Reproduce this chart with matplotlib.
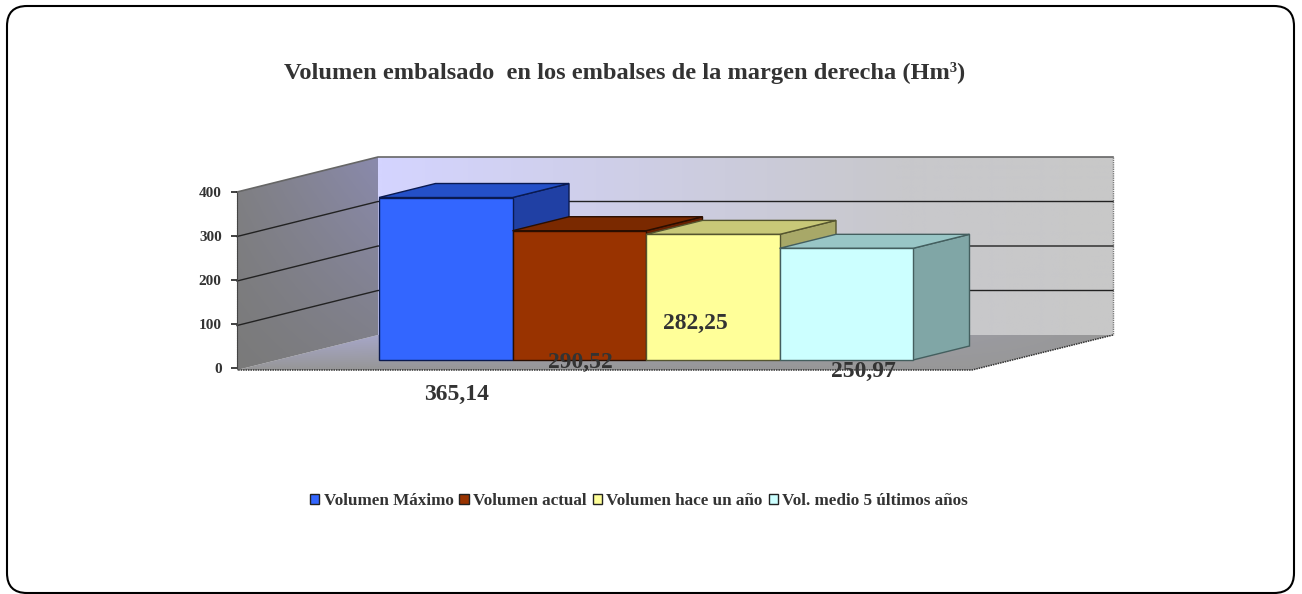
#!/usr/bin/env python3
"""Volumen embalsado, margen derecha: fake-3D bar chart drawn on a pixel canvas."""
import numpy as np
import matplotlib
matplotlib.use("Agg")
import matplotlib.pyplot as plt
from matplotlib.colors import to_rgb
from matplotlib.patches import FancyBboxPatch, Polygon, Rectangle

plt.rcParams["font.family"] = ["Liberation Serif", "DejaVu Serif"]

TITLE = "Volumen embalsado  en los embalses de la margen derecha (Hm³)"
categories = ["Volumen Máximo", "Volumen actual", "Volumen hace un año", "Vol. medio 5 últimos años"]
values = [365.14, 290.52, 282.25, 250.97]
value_labels = ["365,14", "290,52", "282,25", "250,97"]
ticks = [0, 100, 200, 300, 400]

front_colors = ["#3366ff", "#993300", "#ffff99", "#ccffff"]
top_colors = ["#2450c8", "#7a2900", "#c8c878", "#99c6c6"]
side_colors = ["#2040a4", "#661f00", "#a8a868", "#80a6a6"]
edge_colors = ["#0a1a50", "#2a0e00", "#55552f", "#445f5f"]
label_xy = [(457, 393), (580, 361), (695, 322), (863, 370)]

W, H = 1302, 594
PX_PER_UNIT = 0.445
BAR_X0, BAR_W, BAR_BASE = 379, 133.5, 360
BAR_DX, BAR_DY = 56.5, -14
WALL_X0, WALL_X1, WALL_BASE = 378, 1113, 335
WALL_FADE_X = 900  # back wall is plain grey from here on
DEPTH_DX, DEPTH_DY = -141, 35


def gradient(ax, pts, c00, c10, c01, c11):
    """Fill a polygon with a bilinear gradient (corners: TL, TR, BL, BR of its bbox)."""
    pts = np.array(pts, dtype=float)
    x0, y0 = pts.min(axis=0)
    x1, y1 = pts.max(axis=0)
    u, v = np.meshgrid(np.linspace(0, 1, 64), np.linspace(0, 1, 64))
    u, v = u[..., None], v[..., None]
    c00, c10, c01, c11 = [np.array(to_rgb(c)) for c in (c00, c10, c01, c11)]
    img = (1 - v) * ((1 - u) * c00 + u * c10) + v * ((1 - u) * c01 + u * c11)
    im = ax.imshow(img, extent=(x0, x1, y1, y0), aspect="auto", zorder=1, interpolation="bilinear")
    clip = Polygon(pts, closed=True, transform=ax.transData, fc="none", ec="none")
    ax.add_patch(clip)
    im.set_clip_path(clip)


fig = plt.figure(figsize=(W / 100, H / 100), dpi=100, facecolor="white")
ax = fig.add_axes([0, 0, 1, 1])
ax.axis("off")

# floor, left wall, back wall
wall_top = WALL_BASE - ticks[-1] * PX_PER_UNIT
gradient(ax, [(WALL_X0 + DEPTH_DX, WALL_BASE + DEPTH_DY), (WALL_X1 + DEPTH_DX, WALL_BASE + DEPTH_DY),
              (WALL_X1, WALL_BASE), (WALL_X0, WALL_BASE)],
         "#a9a9d0", "#989898", "#969696", "#989898")
gradient(ax, [(WALL_X0 + DEPTH_DX, wall_top + DEPTH_DY), (WALL_X0, wall_top), (WALL_X0, WALL_BASE),
              (WALL_X0 + DEPTH_DX, WALL_BASE + DEPTH_DY)],
         "#808084", "#8a8aac", "#7a7a7a", "#7e7e84")
gradient(ax, [(WALL_X0, wall_top), (WALL_FADE_X, wall_top), (WALL_FADE_X, WALL_BASE), (WALL_X0, WALL_BASE)],
         "#d4d4ff", "#c8c8cc", "#d4d4ff", "#c8c8cc")
gradient(ax, [(WALL_FADE_X, wall_top), (WALL_X1, wall_top), (WALL_X1, WALL_BASE), (WALL_FADE_X, WALL_BASE)],
         "#c8c8cc", "#c8c8c8", "#c8c8cc", "#c8c8c8")
ax.plot([WALL_X0 + DEPTH_DX, WALL_X0, WALL_X1], [wall_top + DEPTH_DY, wall_top, wall_top],
        color="#666666", lw=1.2, zorder=2)
ax.plot([WALL_X1, WALL_X1], [wall_top, WALL_BASE], color="#777777", lw=1.0, ls=(0, (1, 0.6)), zorder=2)
ax.plot([WALL_X1, WALL_X1 + DEPTH_DX, WALL_X0 + DEPTH_DX],
        [WALL_BASE, WALL_BASE + DEPTH_DY, WALL_BASE + DEPTH_DY],
        color="#333333", lw=1.1, ls=(0, (1, 0.6)), zorder=2)

# gridlines on both walls
for t in ticks[1:-1]:
    y = WALL_BASE - t * PX_PER_UNIT
    ax.plot([WALL_X0 + DEPTH_DX, WALL_X0, WALL_X1], [y + DEPTH_DY, y, y], color="#222222", lw=1.0, zorder=2)

# bars, left to right so each one overlaps the previous side face
for i, v in enumerate(values):
    x0, x1 = BAR_X0 + i * BAR_W, BAR_X0 + (i + 1) * BAR_W
    top = BAR_BASE - v * PX_PER_UNIT
    ec = edge_colors[i]
    ax.add_patch(Polygon([(x1, top), (x1 + BAR_DX, top + BAR_DY), (x1 + BAR_DX, BAR_BASE + BAR_DY), (x1, BAR_BASE)],
                         fc=side_colors[i], ec=ec, lw=1, zorder=3 + i))
    ax.add_patch(Polygon([(x0, top), (x0 + BAR_DX, top + BAR_DY), (x1 + BAR_DX, top + BAR_DY), (x1, top)],
                         fc=top_colors[i], ec=ec, lw=1, zorder=3 + i))
    ax.add_patch(Rectangle((x0, top), BAR_W, v * PX_PER_UNIT, fc=front_colors[i], ec=ec, lw=1, zorder=3 + i))

for (lx, ly), s in zip(label_xy, value_labels):
    ax.text(lx, ly + 1, s, ha="center", va="center", fontsize=17, fontweight="bold", color="#333333", zorder=10)

ax.text(625, 73, TITLE, ha="center", va="center", fontsize=17.6, fontweight="bold", color="#333333", zorder=10)

# rounded chart frame
ax.add_patch(FancyBboxPatch((27, 26), 1247, 547, boxstyle="round,pad=20,rounding_size=20",
                            fc="none", ec="black", lw=1.5, zorder=11, clip_on=False))

handles = [Rectangle((0, 0), 1, 1, fc=c, ec="#222222", lw=1) for c in front_colors]
leg = ax.legend(handles, categories, loc="center", bbox_to_anchor=(639 / W, 1 - 501 / H),
                ncol=4, frameon=False, handlelength=0.55, handleheight=0.55, handletextpad=0.25,
                columnspacing=0.35, borderpad=0,
                prop={"size": 12.3, "weight": "bold"}, labelcolor="#333333")
leg.set_zorder(12)

ax.set_xlim(0, W)
ax.set_ylim(H, 0)

# value axis on the front edge of the left wall, so ticks come from a real scale
y_low, y_high = 368, 192
ax_val = fig.add_axes([237 / W, 1 - y_low / H, 0.001, (y_low - y_high) / H], facecolor="none")
ax_val.set_ylim(ticks[0], ticks[-1])
ax_val.set_yticks(ticks)
ax_val.set_xticks([])
for s in ("top", "right", "bottom"):
    ax_val.spines[s].set_visible(False)
ax_val.spines["left"].set_color("#444444")
ax_val.spines["left"].set_linestyle((0, (1, 0.6)))
ax_val.tick_params(axis="y", length=4, width=1.2, color="#222222", pad=7, labelsize=11, labelcolor="#333333")
for lab in ax_val.get_yticklabels():
    lab.set_fontweight("bold")

fig.savefig("out.png", dpi=100)
